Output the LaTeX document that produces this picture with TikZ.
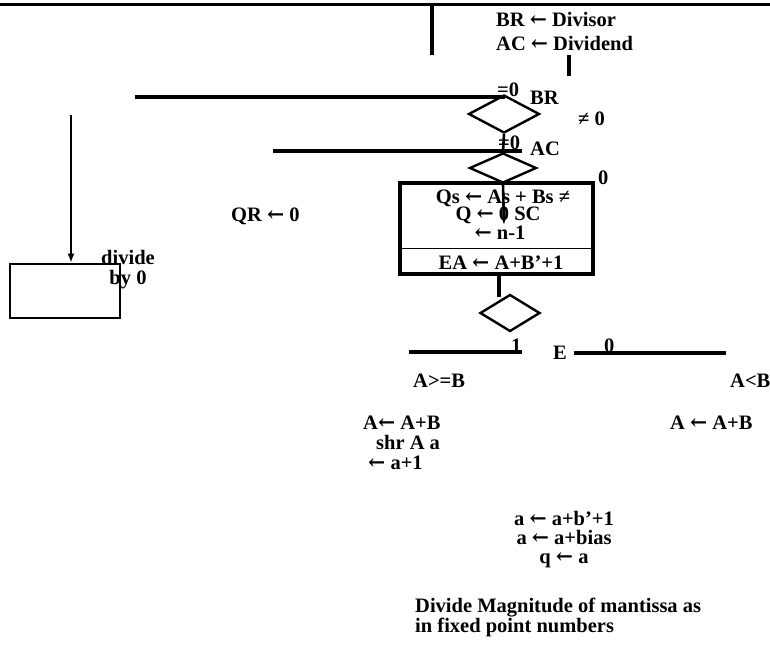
\documentclass[tikz,border=0pt]{standalone}
\usepackage{fontspec}
\setmainfont{Liberation Serif}
\newfontfamily\arrowfont{DejaVu Serif}
\usetikzlibrary{arrows.meta,positioning,shapes.geometric}
\newcommand\getsto{{\arrowfont\bfseries ←}}

\begin{document}
\begin{tikzpicture}[
  x=1pt,y=-1pt,
  >=Latex,
  every node/.style={font=\fontsize{20.5}{20}\selectfont\bfseries,inner sep=0pt},
  txt/.style={anchor=base west},
  mid/.style={anchor=base},
  bar/.style={line width=3.6pt},
  test/.style={draw,diamond,line width=2.4pt,inner sep=0pt},
  stage/.style={draw,line width=3.6pt,inner sep=0pt},
  link/.style={line width=2.6pt,-{Latex[length=9pt,width=7pt]}}
]
  \useasboundingbox (0,0) rectangle (770,650);

  % Texts go first; the flow lines are drawn over them (y given at the baseline).
  \node[txt] (loadbr) at (496,27) {BR \getsto{} Divisor};
  \node[txt] (loadac) at (496,51) {AC \getsto{} Dividend};
  \node[txt] (eqbr) at (497,96) {=0};
  \node[txt] (brlbl) at (530,105) {BR};
  \node[txt] (nebr) at (578,125) {≠ 0};
  \node[txt] (eqac) at (498,149) {=0};
  \node[txt] (aclbl) at (530,155) {AC};
  \node[txt] (neac) at (598,184) {0};
  \node[txt] (qrzero) at (231,221) {QR \getsto{} 0};
  \node[mid] (divide) at (128,264) {divide};
  \node[mid] (byzero) at (128,284) {by 0};

  % Initialisation box with the subtraction below the divider.
  \node[stage,minimum width=193pt,minimum height=91pt] (init) at (496.5,228.5) {};
  \node[mid] (initqs) at (503,203) {Qs \getsto{} As + Bs ≠};
  \node[mid] (initq) at (498,220) {Q \getsto{} 0 SC};
  \node[mid] (initsc) at (500,239) {\getsto{} n-1};
  \node[mid] (sub) at (501,269) {EA \getsto{} A+B’+1};
  \coordinate (sepl) at (402,248);
  \coordinate (sepr) at (591,248);

  % Decisions on BR, AC and the end carry E.
  \node[test,minimum width=71pt,minimum height=38pt] (tbr) at (504,114) {};
  \node[test,minimum width=67pt,minimum height=30pt] (tac) at (503,168) {};
  \node[test,minimum width=60pt,minimum height=37pt] (te) at (510,313) {};

  \node[txt] (one) at (511,352) {1};
  \node[txt] (elbl) at (553,359) {E};
  \node[txt] (zero) at (604,352) {0};
  \node[txt] (ge) at (413,387) {A>=B};
  \node[txt] (lt) at (730,387) {A<B};
  \node[txt] (restore) at (363,429) {A\getsto{} A+B};
  \node[txt] (shift) at (376,449) {shr A a};
  \node[txt] (incr) at (368,469) {\getsto{} a+1};
  \node[txt] (addback) at (670,429) {A \getsto{} A+B};
  \node[mid] (expsub) at (564,525) {a \getsto{} a+b’+1};
  \node[mid] (expbias) at (564,544) {a \getsto{} a+bias};
  \node[mid] (expq) at (564,563) {q \getsto{} a};
  \node[txt] (note) at (415,612) {Divide Magnitude of mantissa as};
  \node[txt] (note2) at (415,632) {in fixed point numbers};

  % Divide-by-zero exit.
  \node[draw,line width=2.6pt,minimum width=110pt,minimum height=54pt] (dzbox) at (65,291) {};

  % Free ends of the flow lines.
  \coordinate (topl) at (0,5);
  \coordinate (topr) at (770,5);
  \coordinate (entry) at (432,5);
  \coordinate (entryend) at (432,55);
  \coordinate (loadtop) at (569,55);
  \coordinate (loadbot) at (569,76);
  \coordinate (brl) at (135,97);
  \coordinate (brr) at (505,97);
  \coordinate (acl) at (273,151);
  \coordinate (acr) at (522,151);
  \coordinate (dzsrc) at (71,115);
  \coordinate (initin) at (504,225);
  \coordinate (initout) at (499,274);
  \coordinate (teto) at (499,297);
  \coordinate (gel) at (409,352);
  \coordinate (ger) at (522,352);
  \coordinate (ltl) at (574,353);
  \coordinate (ltr) at (726,353);

  \draw[line width=3pt] (topl) -- (topr);
  \draw[bar] (entry) -- (entryend);
  \draw[bar] (loadtop) -- (loadbot);
  \draw[bar] (brl) -- (brr);
  \draw[line width=2.6pt] (tbr.south) -- (tac.north);
  \draw[bar] (acl) -- (acr);
  \draw[link] (tac.south) -- (initin);
  \draw[line width=1pt] (sepl) -- (sepr);
  \draw[bar] (initout) -- (teto);
  \draw[bar] (gel) -- (ger);
  \draw[bar] (ltl) -- (ltr);
  \draw[link] (dzsrc) -- (dzbox.north -| dzsrc);
\end{tikzpicture}
\end{document}
